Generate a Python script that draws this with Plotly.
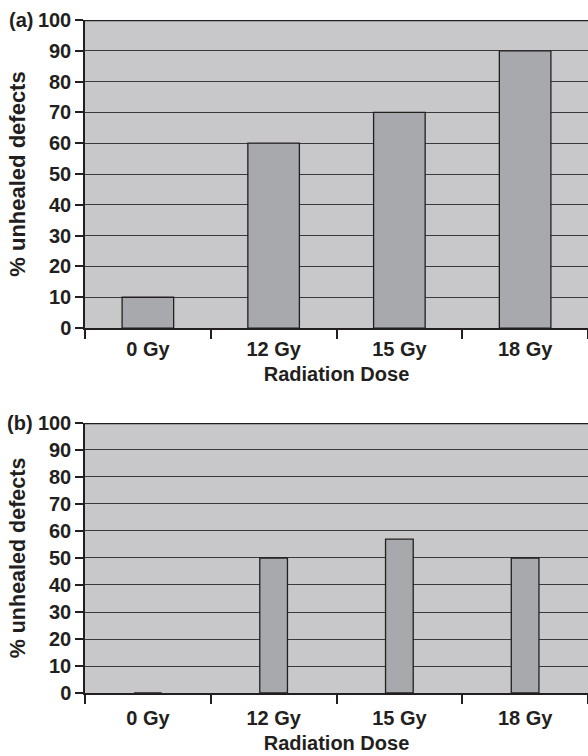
import plotly.graph_objects as go

categories = ["0 Gy", "12 Gy", "15 Gy", "18 Gy"]
values_a = [10, 60, 70, 90]
values_b = [0, 50, 57, 50]
y_ticks = [0, 10, 20, 30, 40, 50, 60, 70, 80, 90, 100]

FONT = "Liberation Sans, Arial, sans-serif"
BG = "#c8c8ca"
BAR = "#a8a9ad"
DARK = "#231f20"

fig = go.Figure()
fig.add_trace(go.Bar(x=categories, y=values_a, width=0.41, marker=dict(color=BAR, line=dict(color=DARK, width=1.3)),
                     xaxis="x", yaxis="y", showlegend=False))
fig.add_trace(go.Bar(x=categories, y=values_b, width=0.22, marker=dict(color=BAR, line=dict(color=DARK, width=1.3)),
                     xaxis="x2", yaxis="y2", showlegend=False))

def xax(anchor, lstand, tstand):
    return dict(type="category", range=[-0.5, 3.5], tickson="boundaries", ticks="outside", ticklen=9,
                tickcolor=DARK, tickwidth=1.5, showline=True, linecolor=DARK, linewidth=1.5,
                showgrid=False, tickfont=dict(family=FONT, size=20, color=DARK), domain=[0.0, 1.0],
                automargin=False, anchor=anchor, ticklabelstandoff=lstand,
                tickvals=categories, ticktext=[f"<b>{c}</b>" for c in categories],
                title=dict(text="<b>Radiation Dose</b>", font=dict(family=FONT, size=20, color=DARK), standoff=tstand))

def yax(domain, anchor, fs, tfs):
    return dict(range=[0, 100], tickvals=y_ticks, ticktext=[f"<b>{v}</b>" for v in y_ticks], ticks="outside",
                ticklen=8, tickcolor=DARK, tickwidth=1.5, showline=True, linecolor=DARK, linewidth=1.5,
                showgrid=True, gridcolor="#3a3a3c", gridwidth=1.2, zeroline=False, automargin=False,
                tickfont=dict(family=FONT, size=fs, color=DARK), domain=domain, anchor=anchor,
                title=dict(text="<b>% unhealed defects</b>", font=dict(family=FONT, size=tfs, color=DARK), standoff=6))

fig.update_layout(
    width=588, height=756, margin=dict(l=85, r=0, t=20, b=63),
    paper_bgcolor="white", plot_bgcolor=BG,
    font=dict(family=FONT, color=DARK),
    xaxis=xax("y", 2, 8),
    xaxis2=xax("y2", 6, 8),
    yaxis=yax([0.5423, 1.0], "x", 20, 22),
    yaxis2=yax([0.0, 0.4012], "x2", 20, 21.5),
    shapes=[
        dict(type="line", xref="x domain", yref="y", x0=0, x1=1, y0=100, y1=100, line=dict(color=DARK, width=2.5)),
        dict(type="line", xref="x2 domain", yref="y2", x0=0, x1=1, y0=100, y1=100, line=dict(color=DARK, width=2.5)),
    ],
    annotations=[
        dict(text="<b>(a)</b>", xref="paper", yref="y", x=-0.0994, y=100, xanchor="right", yanchor="middle",
             showarrow=False, font=dict(family=FONT, size=20, color=DARK)),
        dict(text="<b>(b)</b>", xref="paper", yref="y2", x=-0.0994, y=100, xanchor="right", yanchor="middle",
             showarrow=False, font=dict(family=FONT, size=20, color=DARK)),
    ],
)

fig.write_html("out.html", config={"displayModeBar": False},
               post_script="document.body.style.margin='0';document.body.style.overflow='hidden';")
